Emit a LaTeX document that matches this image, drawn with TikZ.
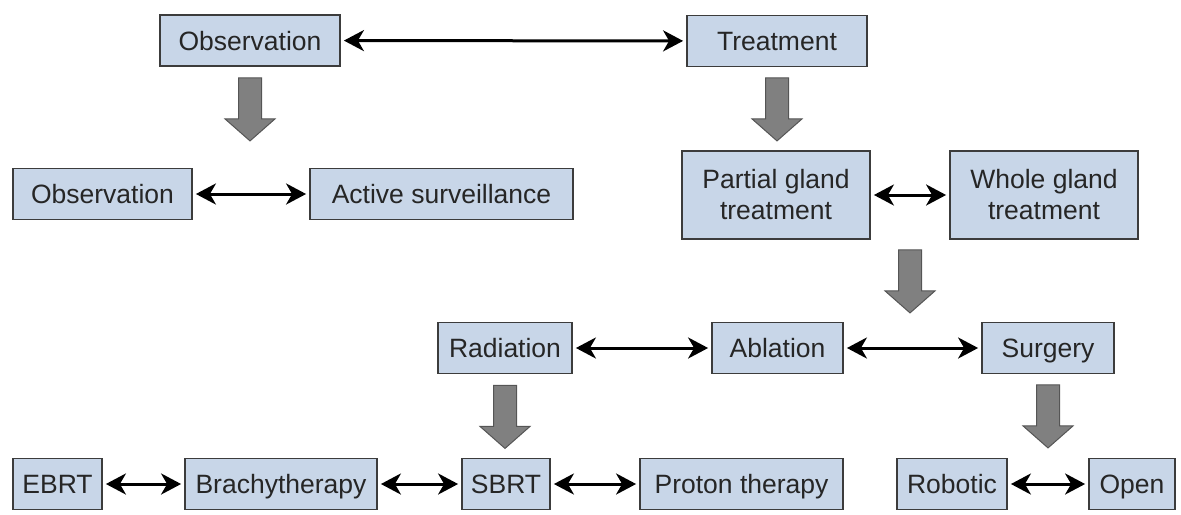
\documentclass[tikz,border=0pt]{standalone}
\usepackage{fontspec}
\setmainfont{Liberation Sans}
\usetikzlibrary{arrows.meta, calc}

\definecolor{boxblue}{HTML}{C8D6E8}
\definecolor{boxedge}{HTML}{3C3C3C}
\definecolor{arrowgray}{HTML}{808080}
\definecolor{arrowedge}{HTML}{555555}

\begin{document}
\begin{tikzpicture}[x=0.5pt, y=-0.5pt,
            box/.style={draw=boxedge, fill=boxblue, line width=0.9pt, minimum height=25.5pt, inner sep=2pt,
                text height=9.5pt, text depth=0pt, text=black!85, font=\fontsize{13.25}{15.5}\selectfont},
            tallbox/.style={box, align=center, minimum height=44pt, text height=, text depth=},
            both/.style={{Stealth[length=10pt,width=10.5pt,inset=3pt]}-{Stealth[length=10pt,width=10.5pt,inset=3pt]},
                line width=1.5pt, shorten <=1.5pt, shorten >=1.5pt},
            downarrow/.pic={\draw[fill=arrowgray, draw=arrowedge, line width=0.5pt]
                (-11.5,0) -- (-11.5,41) -- (-25,41) -- (0,63) -- (25,41) -- (11.5,41) -- (11.5,0) -- cycle;}]
        \useasboundingbox (0,0) rectangle (1181,514);
        \node[box, minimum width=90pt] (obs) at (250,40.5) {Observation};
        \node[box, minimum width=90pt] (treat) at (777,41) {Treatment};
        \node[box, minimum width=89.5pt] (obsB) at (102.5,194) {Observation};
        \node[box, minimum width=131.5pt] (surv) at (441.5,194) {Active surveillance};
        \node[tallbox, minimum width=94pt] (partial) at (776,195) {Partial gland\\treatment};
        \node[tallbox, minimum width=94pt] (whole) at (1044,195) {Whole gland\\treatment};
        \node[box, minimum width=67pt] (rad) at (505,348) {Radiation};
        \node[box, minimum width=65.5pt] (abl) at (777.5,348) {Ablation};
        \node[box, minimum width=66pt] (surg) at (1048,348) {Surgery};
        \node[box, minimum width=44.5pt] (ebrt) at (57.5,484) {EBRT};
        \node[box, minimum width=96pt] (brachy) at (281,484) {Brachytherapy};
        \node[box, minimum width=44pt] (sbrt) at (506,484) {SBRT};
        \node[box, minimum width=101.5pt] (proton) at (741.5,484) {Proton therapy};
        \node[box, minimum width=55pt] (robotic) at (952,484) {Robotic};
        \node[box, minimum width=43pt] (open) at (1132,484) {Open};

        \draw[both] (obs) -- (treat);
        \draw[both] (obsB) -- (surv);
        \draw[both] (partial) -- (whole);
        \draw[both] (rad) -- (abl);
        \draw[both] (abl) -- (surg);
        \draw[both] (ebrt) -- (brachy);
        \draw[both] (brachy) -- (sbrt);
        \draw[both] (sbrt) -- (proton);
        \draw[both] (robotic) -- (open);

        \path (obs.south) ++(0,11) pic {downarrow};
        \path (treat.south) ++(0,10.5) pic {downarrow};
        \path ($(partial.south)!0.5!(whole.south)$) ++(0,10) pic {downarrow};
        \path (rad.south) ++(0,11) pic {downarrow};
        \path (surg.south) ++(0,10.5) pic {downarrow};
    \end{tikzpicture}
\end{document}
